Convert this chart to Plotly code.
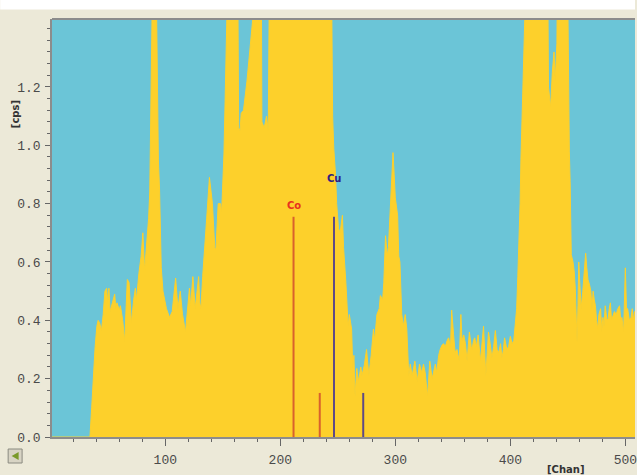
import plotly.graph_objects as go

# ---- data ----
spectrum_chan = [0, 34.5, 36, 37.3, 39, 40.5, 41.6, 43, 44.5, 46, 47.5, 49, 50, 51, 52, 54, 56, 57, 58, 60,
                 61, 63, 64.7, 66, 67, 68.5, 70, 70.5, 72.5, 74, 75, 77, 79, 80.5, 82, 84, 85.5, 86.5, 87.5, 88,
                 90, 92, 93, 94, 95, 96.5, 98, 99.4, 101, 103.7, 106, 109, 110, 111, 113, 115, 117.6, 119, 121, 122,
                 124, 126, 129, 130, 131, 132.5, 134, 136, 138.4, 139.5, 141, 143, 144, 146, 148, 149, 150, 151, 152, 153,
                 154, 156, 160, 163, 163.8, 165, 166, 168, 171, 174, 176, 177.5, 180, 183.5, 184, 186, 188, 189.5, 190.6, 200,
                 220, 240, 244.5, 245.5, 246.5, 248, 249, 250.6, 252, 254, 255, 257, 259, 260, 262, 263, 264, 265, 266.5, 268,
                 270, 271, 273, 275, 277, 279, 281, 282, 284, 286, 287, 289, 290, 291.5, 293, 294, 296, 298, 299, 300,
                 302, 303, 304, 305.6, 307, 308.6, 310, 311.7, 313, 314.6, 317, 319, 321, 323, 324.5, 326, 328, 330, 332, 334.8,
                 336, 337.7, 339, 340.6, 342, 343.5, 345, 346.3, 348, 349, 350.7, 352, 353.6, 355.6, 357, 358, 359.5, 361, 362.4, 364.4,
                 366, 366.7, 368, 369, 370.5, 372, 374, 375.5, 376.7, 378.7, 380, 381, 382.5, 384, 385.5, 387, 388.5, 390, 391.5, 392.7,
                 394, 395, 397, 398.5, 400, 401.5, 403, 404.5, 405.5, 406.5, 407.5, 408.5, 409.2, 410, 411, 412, 420, 430, 432.5, 433.2,
                 435, 436.5, 438, 439, 439.6, 440.5, 441, 445, 450, 450.6, 451.3, 452, 453, 454.5, 455.5, 456.5, 457.2, 458, 458.8, 459.5,
                 460.5, 461.6, 463, 464, 465.5, 466.5, 467.5, 469, 470, 471, 472, 473, 474, 475, 476, 477, 478.5, 479.5, 480.5, 481.5,
                 482.5, 484, 485, 486, 487, 488, 489, 490.5, 492, 493.5, 495, 496, 497, 498.5, 500, 501, 502, 503.5, 505, 506,
                 507, 508, 510]
spectrum_cps = [0, 0, 0.10, 0.20, 0.31, 0.38, 0.40, 0.39, 0.365, 0.42, 0.50, 0.51, 0.46, 0.51, 0.43, 0.46, 0.49, 0.44, 0.46, 0.435,
                0.45, 0.40, 0.326, 0.45, 0.54, 0.53, 0.45, 0.39, 0.47, 0.51, 0.47, 0.56, 0.62, 0.70, 0.57, 0.66, 0.75, 0.84, 1.20, 1.60,
                1.90, 1.60, 1.20, 0.95, 0.85, 0.58, 0.50, 0.475, 0.44, 0.41, 0.43, 0.545, 0.47, 0.44, 0.50, 0.42, 0.36, 0.43, 0.51, 0.45,
                0.55, 0.44, 0.55, 0.46, 0.44, 0.55, 0.65, 0.75, 0.89, 0.84, 0.80, 0.65, 0.64, 0.80, 0.80, 0.77, 0.85, 0.97, 1.15, 1.33,
                1.60, 1.90, 2.00, 1.60, 1.06, 1.05, 1.11, 1.12, 1.22, 1.35, 1.43, 1.70, 2.00, 1.60, 1.08, 1.06, 1.10, 1.05, 1.60, 2.50,
                3.00, 2.20, 1.60, 1.10, 0.99, 0.90, 0.80, 0.715, 0.70, 0.76, 0.65, 0.53, 0.38, 0.42, 0.37, 0.235, 0.28, 0.14, 0.235, 0.19,
                0.24, 0.21, 0.245, 0.30, 0.21, 0.28, 0.37, 0.33, 0.42, 0.44, 0.485, 0.47, 0.53, 0.69, 0.62, 0.65, 0.82, 0.975, 0.90, 0.82,
                0.76, 0.62, 0.60, 0.42, 0.38, 0.42, 0.37, 0.21, 0.25, 0.21, 0.26, 0.19, 0.25, 0.22, 0.25, 0.22, 0.14, 0.26, 0.20, 0.25,
                0.22, 0.28, 0.30, 0.315, 0.32, 0.31, 0.33, 0.34, 0.31, 0.435, 0.35, 0.29, 0.30, 0.26, 0.42, 0.33, 0.35, 0.32, 0.26, 0.36,
                0.31, 0.30, 0.33, 0.34, 0.31, 0.35, 0.26, 0.33, 0.38, 0.21, 0.30, 0.36, 0.32, 0.27, 0.31, 0.365, 0.30, 0.29, 0.32, 0.27,
                0.30, 0.34, 0.30, 0.31, 0.345, 0.32, 0.33, 0.40, 0.44, 0.55, 0.65, 0.80, 0.95, 1.10, 1.40, 1.70, 2.50, 2.20, 1.60, 1.20,
                1.13, 1.25, 1.32, 1.22, 1.26, 1.35, 1.60, 2.00, 1.50, 1.10, 0.98, 0.875, 0.625, 0.60, 0.57, 0.51, 0.45, 0.325, 0.45, 0.60,
                0.52, 0.44, 0.50, 0.555, 0.63, 0.58, 0.54, 0.52, 0.50, 0.44, 0.50, 0.47, 0.45, 0.40, 0.37, 0.42, 0.44, 0.36, 0.41, 0.38,
                0.45, 0.40, 0.405, 0.44, 0.46, 0.40, 0.41, 0.43, 0.42, 0.44, 0.45, 0.40, 0.41, 0.36, 0.58, 0.44, 0.44, 0.40, 0.41, 0.44,
                0.40, 0.43, 0.42]

co_chan = [211.5, 234.3]
co_cps = [0.755, 0.151]
cu_chan = [246.7, 272.1]
cu_cps = [0.755, 0.151]
x_tick_vals = [100, 200, 300, 400, 500]
y_tick_vals = [0.0, 0.2, 0.4, 0.6, 0.8, 1.0, 1.2]
y_tick_text = ["0.0", "0.2", "0.4", "0.6", "0.8", "1.0", "1.2"]

# ---- figure ----
W, H = 637, 475
L, R, T, B = 52, 0, 19, 38
pw, ph = W - L - R, H - T - B


def px2paper_x(px):
    return (px - L) / pw


def py2paper_y(py):
    return (H - B - py) / ph


def stems(xs, ys):
    sx, sy = [], []
    for x, y in zip(xs, ys):
        sx += [x, x, None]
        sy += [0, y, None]
    return sx, sy


fig = go.Figure()
fig.add_trace(go.Scatter(x=spectrum_chan, y=spectrum_cps, mode="lines", fill="tozeroy",
                         line=dict(color="#FDD02B", width=1), fillcolor="#FDD02B",
                         hoverinfo="skip", showlegend=False))
cx, cy = stems(co_chan, co_cps)
fig.add_trace(go.Scatter(x=cx, y=cy, mode="lines", line=dict(color="#D9612C", width=2),
                         hoverinfo="skip", showlegend=False))
ux, uy = stems(cu_chan, cu_cps)
fig.add_trace(go.Scatter(x=ux, y=uy, mode="lines", line=dict(color="#5E4A86", width=2),
                         hoverinfo="skip", showlegend=False))

tickfont = dict(family="Liberation Mono", size=13, color="#4a4a4a")

fig.update_layout(
    width=W, height=H,
    margin=dict(l=L, r=R, t=T, b=B, pad=0),
    paper_bgcolor="#ECE9D8",
    plot_bgcolor="#6BC5D7",
    xaxis=dict(range=[1.5, 508.4], tickmode="array", tickvals=x_tick_vals,
               ticks="outside", ticklen=7, tickcolor="#666666", tickwidth=1,
               minor=dict(dtick=20, tick0=0, ticks="outside", ticklen=3, tickcolor="#666666"),
               showgrid=False, zeroline=False, showline=True, linecolor="#8c8c8c", linewidth=1.5,
               tickfont=tickfont, ticklabelstandoff=3, ticklabeloverflow="allow"),
    yaxis=dict(range=[0, 1.433], tickmode="array", tickvals=y_tick_vals, ticktext=y_tick_text,
               ticks="outside", ticklen=5, tickcolor="#666666", tickwidth=1,
               minor=dict(dtick=0.04, tick0=0, ticks="outside", ticklen=3, tickcolor="#666666"),
               showgrid=False, zeroline=False, showline=True, linecolor="#8c8c8c", linewidth=1.5,
               tickfont=tickfont, ticklabelstandoff=2),
    annotations=[
        dict(x=co_chan[0], y=0.767, xref="x", yref="y", text="<b>Co</b>", showarrow=False,
             yanchor="bottom", xanchor="center", font=dict(family="DejaVu Sans", size=10, color="#E8321E")),
        dict(x=cu_chan[0], y=0.860, xref="x", yref="y", text="<b>Cu</b>", showarrow=False,
             yanchor="bottom", xanchor="center", font=dict(family="DejaVu Sans", size=10, color="#2E2080")),
        dict(x=px2paper_x(15), y=py2paper_y(114), xref="paper", yref="paper", text="<b>[cps]</b>",
             showarrow=False, textangle=-90, xanchor="center", yanchor="middle",
             font=dict(family="DejaVu Sans", size=10, color="#333333")),
        dict(x=px2paper_x(567), y=py2paper_y(469), xref="paper", yref="paper", text="<b>[Chan]</b>",
             showarrow=False, xanchor="center", yanchor="middle",
             font=dict(family="DejaVu Sans", size=10, color="#333333")),
    ],
    shapes=[
        # white strip at the very top
        dict(type="rect", xref="paper", yref="paper", x0=px2paper_x(0), x1=px2paper_x(W),
             y0=py2paper_y(9.5), y1=py2paper_y(-2), fillcolor="white", line=dict(width=0), layer="above"),
        # top border of plot
        dict(type="line", xref="paper", yref="paper", x0=px2paper_x(L), x1=px2paper_x(W),
             y0=1, y1=1, line=dict(color="#8c8c8c", width=2), layer="above"),
        # small scroll button
        dict(type="rect", xref="paper", yref="paper", x0=px2paper_x(8), x1=px2paper_x(22),
             y0=py2paper_y(463), y1=py2paper_y(449), fillcolor="#D8D4C4",
             line=dict(color="#8a8a80", width=1), layer="above"),
        dict(type="path", xref="paper", yref="paper",
             path=f"M {px2paper_x(11.5)} {py2paper_y(456)} L {px2paper_x(18.5)} {py2paper_y(452)} "
                  f"L {px2paper_x(18.5)} {py2paper_y(460)} Z",
             fillcolor="#7A9A2A", line=dict(width=0), layer="above"),
    ],
)

fig.write_html("out.html")
